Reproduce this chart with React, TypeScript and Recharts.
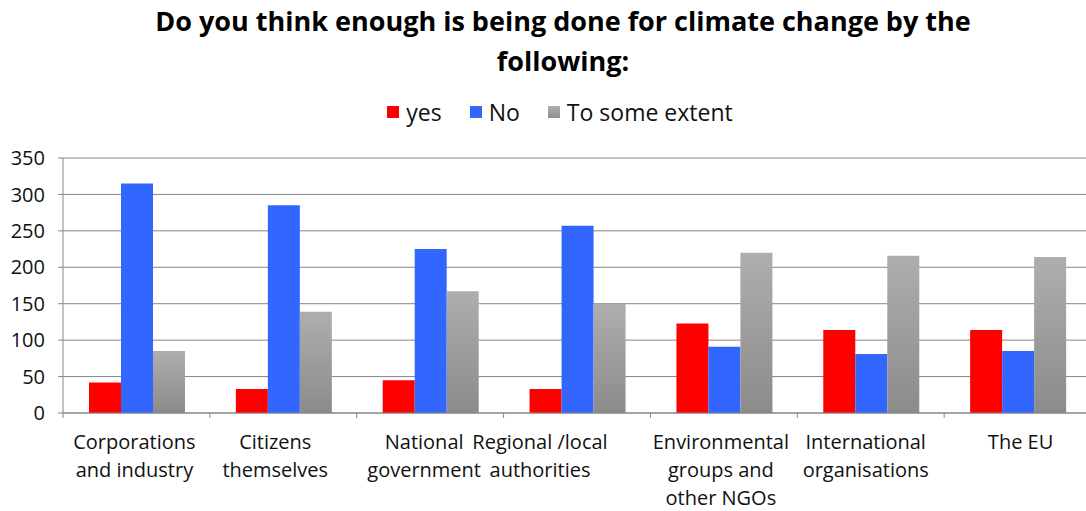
import React from 'react';
import { BarChart, Bar, XAxis, YAxis, CartesianGrid, Legend } from 'recharts';

const TITLE_LINES = ['Do you think enough is being done for climate change by the', 'following:'];
const CATEGORIES = [
  'Corporations\nand industry',
  'Citizens\nthemselves',
  'National\ngovernment',
  'Regional /local\nauthorities',
  'Environmental\ngroups and\nother NGOs',
  'International\norganisations',
  'The EU',
];
const SERIES_NAMES = ['yes', 'No', 'To some extent'];
const YES_VALUES = [42, 33, 45, 33, 123, 114, 114];
const NO_VALUES = [315, 285, 225, 257, 91, 81, 85];
const SOME_VALUES = [85, 139, 167, 150, 220, 216, 214];
const Y_TICKS = [0, 50, 100, 150, 200, 250, 300, 350];

const data = CATEGORIES.map((c, i) => ({
  category: c,
  yes: YES_VALUES[i],
  no: NO_VALUES[i],
  some: SOME_VALUES[i],
}));

// layout / style constants
const FONT = '"Open Sans", sans-serif';
const CHART_W = 1091;
const CHART_H = 511;
const Y_W = 63;
const BAND = (CHART_W - Y_W) / CATEGORIES.length;
const LABEL_DX = [-2, -8, -6, -37, -3, -5, 3];
const AXIS_COLOR = '#868686';
const COLORS = { yes: '#FF0000', no: '#3366FF', some: '#A6A6A6' };

const XTick = (props: any) => {
  const { x, y, payload, index } = props;
  const lines = String(payload.value).split('\n');
  const left = x - BAND / 2;
  const right = x + BAND / 2;
  const tx = x + (LABEL_DX[index] || 0);
  return (
    <g>
      <line x1={left} y1={y} x2={left} y2={y + 5} stroke={AXIS_COLOR} />
      {index === CATEGORIES.length - 1 && (
        <line x1={right} y1={y} x2={right} y2={y + 5} stroke={AXIS_COLOR} />
      )}
      <text textAnchor="middle" fontFamily={FONT} fontSize={20} fill="#111">
        {lines.map((l, i) => (
          <tspan key={i} x={tx} y={y + 36 + i * 28}>
            {l}
          </tspan>
        ))}
      </text>
    </g>
  );
};

const LegendContent = (props: any) => {
  const items = [
    { name: SERIES_NAMES[0], bg: COLORS.yes },
    { name: SERIES_NAMES[1], bg: COLORS.no },
    { name: SERIES_NAMES[2], bg: 'linear-gradient(#B0B0B0, #8E8E8E)' },
  ];
  return (
    <div
      style={{
        display: 'flex',
        justifyContent: 'center',
        alignItems: 'center',
        fontFamily: FONT,
        fontSize: 23,
        color: '#111',
        lineHeight: '28px',
      }}
    >
      {items.map((it, i) => (
        <div key={i} style={{ display: 'flex', alignItems: 'center', marginRight: i < 2 ? 28 : 0 }}>
          <span style={{ display: 'inline-block', width: 12, height: 12, background: it.bg }} />
          <span style={{ marginLeft: 7 }}>{it.name}</span>
        </div>
      ))}
    </div>
  );
};

export default function App() {
  return (
    <div
      style={{
        position: 'absolute',
        left: 0,
        top: 0,
        width: 1086,
        height: 511,
        overflow: 'hidden',
        background: '#fff',
      }}
    >
      <div
        style={{
          position: 'absolute',
          left: 0,
          top: 1,
          width: 1126,
          textAlign: 'center',
          fontFamily: FONT,
          fontWeight: 700,
          fontSize: 27,
          lineHeight: '40px',
          color: '#000',
        }}
      >
        {TITLE_LINES.map((t, i) => (
          <div key={i}>{t}</div>
        ))}
      </div>
      <div style={{ position: 'absolute', left: 0, top: 0 }}>
        <BarChart
          width={CHART_W}
          height={CHART_H}
          data={data}
          margin={{ top: 158, right: 0, left: 0, bottom: 0 }}
          barCategoryGap="17.7%"
          barGap={0}
        >
          <defs>
            <linearGradient id="graySomeGrad" x1="0" y1="0" x2="0" y2="1">
              <stop offset="0%" stopColor="#AEAEAE" />
              <stop offset="100%" stopColor="#8B8B8B" />
            </linearGradient>
          </defs>
          <CartesianGrid vertical={false} stroke={AXIS_COLOR} strokeWidth={1} />
          <XAxis
            dataKey="category"
            height={CHART_H - 413}
            interval={0}
            tickSize={0}
            tickMargin={0}
            tickLine={false}
            axisLine={{ stroke: AXIS_COLOR }}
            tick={<XTick />}
          />
          <YAxis
            width={Y_W}
            domain={[0, 350]}
            ticks={Y_TICKS}
            interval={0}
            tickSize={5}
            tickMargin={13}
            tickLine={{ stroke: AXIS_COLOR }}
            axisLine={{ stroke: AXIS_COLOR }}
            tick={{ fontFamily: FONT, fontSize: 20, fill: '#111' }}
          />
          <Legend
            verticalAlign="middle"
            layout="horizontal"
            wrapperStyle={{ top: 98, left: 0, width: 1120, height: 30 }}
            content={<LegendContent />}
          />
          <Bar dataKey="yes" name={SERIES_NAMES[0]} fill={COLORS.yes} isAnimationActive={false} />
          <Bar dataKey="no" name={SERIES_NAMES[1]} fill={COLORS.no} isAnimationActive={false} />
          <Bar dataKey="some" name={SERIES_NAMES[2]} fill="url(#graySomeGrad)" isAnimationActive={false} />
        </BarChart>
      </div>
    </div>
  );
}
